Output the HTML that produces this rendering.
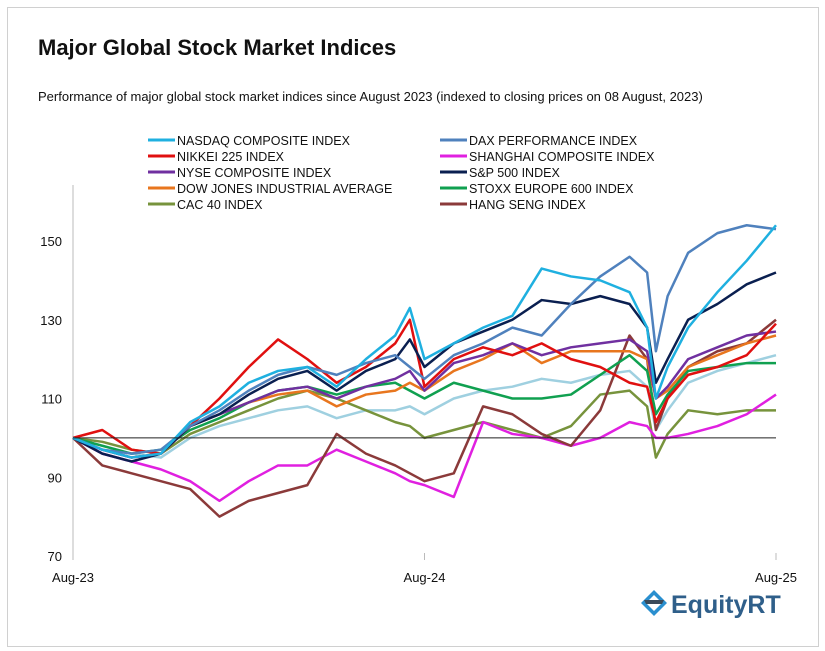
<!DOCTYPE html>
<html><head><meta charset="utf-8">
<style>
body{margin:0;background:#fff;width:825px;height:651px;overflow:hidden;font-family:"Liberation Sans",sans-serif}
#frame{position:absolute;left:7px;top:7px;width:810px;height:638px;border:1px solid #d0d0d0}
</style></head><body>
<div id="frame"></div>
<svg id="c" width="825" height="651" style="position:absolute;left:0;top:0">
<text x="38" y="55" font-size="22" font-weight="bold" fill="#111">Major Global Stock Market Indices</text>
<text x="38" y="101" font-size="13" fill="#111">Performance of major global stock market indices since August 2023 (indexed to closing prices on 08 August, 2023)</text>
<g id="legend"></g>
<g id="axes"></g>
<g id="plot"></g>
<g>
<path d="M641 603 L654 590 L667 603 L654 616 Z" fill="#2a8fcf"/>
<path d="M646 603 L654 595 L662 603 L654 611 Z" fill="#fff"/>
<path d="M644 600 L664 600 L662 604 L646 604Z" fill="#3a4a5a"/>
<text x="671" y="613" font-size="25" font-weight="bold" fill="#2f5f8a">EquityRT</text>
</g>
</svg>
<script>
const months=[0,1,2,3,4,5,6,7,8,9,10,11,11.5,12,13,14,15,16,17,18,19,19.6,19.9,20.3,21,22,23,24];
const xTickLabels=["Aug-23","Aug-24","Aug-25"];
const xTickMonths=[0,12,24];
const yTicks=[70,90,110,130,150];
const seriesNames=["NASDAQ COMPOSITE INDEX","DAX PERFORMANCE INDEX","NIKKEI 225 INDEX","SHANGHAI COMPOSITE INDEX","NYSE COMPOSITE INDEX","S&P 500 INDEX","DOW JONES INDUSTRIAL AVERAGE","STOXX EUROPE 600 INDEX","CAC 40 INDEX","HANG SENG INDEX"];
const seriesColors=["#1fb0e0","#4f81bd","#e01010","#e020e0","#7030a0","#0a1f50","#e8761e","#10a050","#77933c","#8b3a3a"];
const paleValues=[100,97,96,95,100,103,105,107,108,105,107,107,108,106,110,112,113,115,114,116,117,113,102,107,114,117,119,121];
const nasdaq=[100,97,95,96,104,108,114,117,118,113,120,126,133,120,124,128,131,143,141,140,137,128,110,118,128,137,145,154];
const dax=[100,97,96,97,103,107,112,116,118,116,119,121,118,115,121,124,128,126,134,141,146,142,122,136,147,152,154,153];
const nikkei=[100,102,97,96,103,110,118,125,120,114,118,124,130,113,120,123,121,124,120,118,114,113,104,110,116,118,121,129];
const shanghai=[100,96,94,92,89,84,89,93,93,97,94,91,89,88,85,104,101,100,98,100,104,103,100,100,101,103,106,111];
const nyse=[100,97,95,96,103,106,109,112,113,110,113,115,117,112,119,121,124,121,123,124,125,122,110,113,120,123,126,127];
const sp500=[100,96,94,96,103,106,111,115,117,112,117,120,125,118,124,127,130,135,134,136,134,128,114,120,130,134,139,142];
const dow=[100,97,95,96,103,106,109,111,112,108,111,112,114,112,117,120,124,119,122,122,122,120,110,112,118,121,124,126];
const stoxx=[100,98,96,97,102,105,109,112,113,111,113,114,112,110,114,112,110,110,111,116,121,117,106,111,117,118,119,119];
const cac=[100,99,97,96,101,104,107,110,112,110,107,104,103,100,102,104,102,100,103,111,112,108,95,101,107,106,107,107];
const hangseng=[100,93,91,89,87,80,84,86,88,101,96,93,91,89,91,108,106,101,98,107,126,120,102,110,118,122,124,130];
const ns="http://www.w3.org/2000/svg";
const X=m=>73+m*(776-73)/24;
const Y=v=>556-(v-70)*(556-241)/80;
function mk(t,a,p){const e=document.createElementNS(ns,t);for(const k in a)e.setAttribute(k,a[k]);p.appendChild(e);return e;}
const axes=document.getElementById('axes'),plot=document.getElementById('plot'),leg=document.getElementById('legend');
const ax=mk('line',{x1:73,y1:185,x2:73,y2:556,stroke:'#bbb'},axes);


yTicks.forEach(v=>{const t=mk('text',{x:62,y:Y(v)+5,'text-anchor':'end','font-size':13,fill:'#111'},axes);t.textContent=v;

});
xTickMonths.forEach((m,i)=>{const t=mk('text',{x:X(m),y:582,'text-anchor':'middle','font-size':13,fill:'#111'},axes);t.textContent=xTickLabels[i];


mk('line',{x1:X(m),y1:553,x2:X(m),y2:560,stroke:'#bbb'},axes);});
function line(vals,col,w,name){const p=mk('polyline',{points:vals.map((v,i)=>X(months[i])+','+Y(v)).join(' '),fill:'none',stroke:col,'stroke-width':w,'stroke-linejoin':'round'},plot);

}
const all=[nasdaq,dax,nikkei,shanghai,nyse,sp500,dow,stoxx,cac,hangseng];
line(paleValues,'#9fd0e0',2.5,'line-other-index');
const order=[8,3,9,7,6,4,2,5,1,0];
order.forEach(i=>line(all[i],seriesColors[i],2.5,'line-'+seriesNames[i].toLowerCase().replace(/[^a-z0-9]+/g,'-')));
const base=mk('line',{x1:73,y1:Y(100),x2:776,y2:Y(100),stroke:'#222','stroke-width':1},plot);


seriesNames.forEach((n,i)=>{const col=i%2,row=Math.floor(i/2);const lx=col?440:148,ly=140+row*16;
const g=mk('g',{},leg);


mk('line',{x1:lx,y1:ly,x2:lx+27,y2:ly,stroke:seriesColors[i],'stroke-width':3},g);
const t=mk('text',{x:lx+29,y:ly+5,'font-size':12.5,fill:'#111'},g);t.textContent=n;});
</script>
</body></html>
